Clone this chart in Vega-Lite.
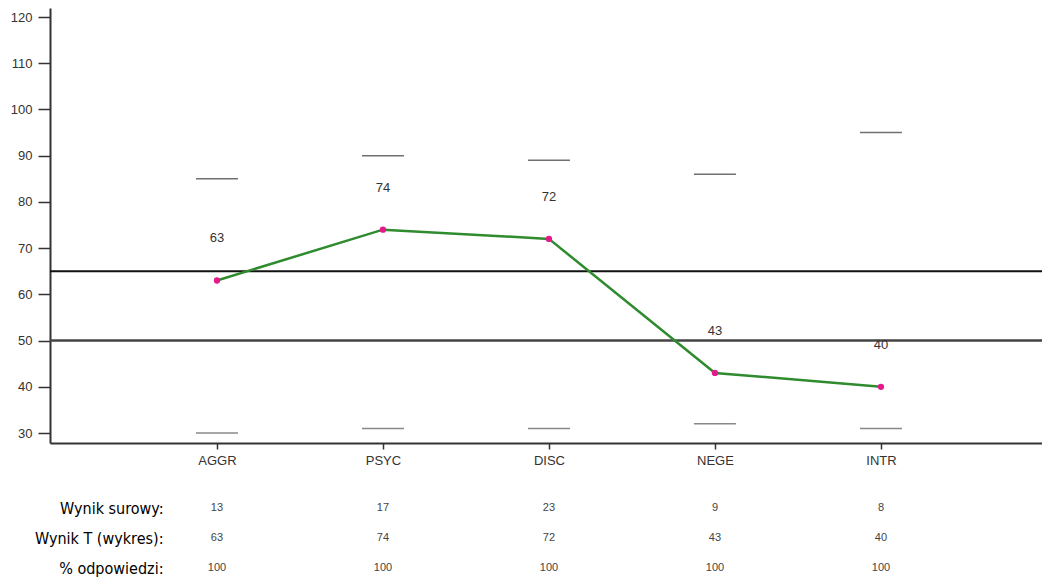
{
  "$schema": "https://vega.github.io/schema/vega-lite/v6.json",
  "padding": {"left": 10, "top": 8, "right": 0, "bottom": 0},
  "background": "white",
  "config": {"view": {"stroke": null}, "font": "Liberation Sans"},
  "datasets": {
    "scores": [
      {"scale": "AGGR", "t": 63, "hi": 85, "lo": 30},
      {"scale": "PSYC", "t": 74, "hi": 90, "lo": 31},
      {"scale": "DISC", "t": 72, "hi": 89, "lo": 31},
      {"scale": "NEGE", "t": 43, "hi": 86, "lo": 32},
      {"scale": "INTR", "t": 40, "hi": 95, "lo": 31}
    ],
    "norms": [{"level": "high", "y": 65}, {"level": "mid", "y": 50}],
    "table": [
      {"scale": "AGGR", "row": "Wynik surowy:", "value": 13},
      {"scale": "PSYC", "row": "Wynik surowy:", "value": 17},
      {"scale": "DISC", "row": "Wynik surowy:", "value": 23},
      {"scale": "NEGE", "row": "Wynik surowy:", "value": 9},
      {"scale": "INTR", "row": "Wynik surowy:", "value": 8},
      {"scale": "AGGR", "row": "Wynik T (wykres):", "value": 63},
      {"scale": "PSYC", "row": "Wynik T (wykres):", "value": 74},
      {"scale": "DISC", "row": "Wynik T (wykres):", "value": 72},
      {"scale": "NEGE", "row": "Wynik T (wykres):", "value": 43},
      {"scale": "INTR", "row": "Wynik T (wykres):", "value": 40},
      {"scale": "AGGR", "row": "% odpowiedzi:", "value": 100},
      {"scale": "PSYC", "row": "% odpowiedzi:", "value": 100},
      {"scale": "DISC", "row": "% odpowiedzi:", "value": 100},
      {"scale": "NEGE", "row": "% odpowiedzi:", "value": 100},
      {"scale": "INTR", "row": "% odpowiedzi:", "value": 100}
    ]
  },
  "spacing": 26,
  "vconcat": [
    {
      "width": 992,
      "height": 435,
      "layer": [
        {
          "data": {"name": "norms"},
          "transform": [{"filter": "datum.level === 'high'"}],
          "mark": {"type": "rule", "color": "#111", "strokeWidth": 2},
          "encoding": {
            "y": {"field": "y", "type": "quantitative", "scale": {"domain": [27.84, 121.95], "nice": false, "zero": false},
              "axis": {"title": null, "values": [30, 40, 50, 60, 70, 80, 90, 100, 110, 120], "grid": false, "domainColor": "#333", "domainWidth": 2, "tickColor": "#333", "tickWidth": 1.5, "tickSize": 12, "labelPadding": 6, "labelFontSize": 13, "labelColor": "#333", "labelFont": "Liberation Sans"}}
          }
        },
        {
          "data": {"name": "norms"},
          "transform": [{"filter": "datum.level === 'mid'"}],
          "mark": {"type": "rule", "color": "#444", "strokeWidth": 2.5},
          "encoding": {"y": {"field": "y", "type": "quantitative"}}
        },
        {
          "data": {"name": "scores"},
          "mark": {"type": "tick", "color": "#333", "size": 42, "thickness": 1.5},
          "encoding": {
            "x": {"field": "scale", "type": "nominal", "sort": null,
              "scale": {"type": "point", "domain": ["AGGR", "PSYC", "DISC", "NEGE", "INTR"], "padding": 0.988, "align": 0.509},
              "axis": {"title": null, "labelAngle": 0, "domainColor": "#333", "domainWidth": 2, "tickColor": "#333", "tickWidth": 1.5, "tickSize": 6, "labelPadding": 5, "labelFontSize": 13, "labelColor": "#333", "labelFont": "Liberation Sans"}},
            "y": {"field": "hi", "type": "quantitative"}
          }
        },
        {
          "data": {"name": "scores"},
          "mark": {"type": "tick", "color": "#555", "size": 42, "thickness": 1.5},
          "encoding": {
            "x": {"field": "scale", "type": "nominal", "sort": null},
            "y": {"field": "lo", "type": "quantitative"}
          }
        },
        {
          "data": {"name": "scores"},
          "mark": {"type": "line", "color": "#2e8b2e", "strokeWidth": 2.5},
          "encoding": {
            "x": {"field": "scale", "type": "nominal", "sort": null},
            "y": {"field": "t", "type": "quantitative"}
          }
        },
        {
          "data": {"name": "scores"},
          "mark": {"type": "point", "filled": true, "color": "#e6198c", "size": 40, "opacity": 1},
          "encoding": {
            "x": {"field": "scale", "type": "nominal", "sort": null},
            "y": {"field": "t", "type": "quantitative"}
          }
        },
        {
          "data": {"name": "scores"},
          "mark": {"type": "text", "dy": -42, "fontSize": 13, "color": "#333", "font": "Liberation Sans"},
          "encoding": {
            "x": {"field": "scale", "type": "nominal", "sort": null},
            "y": {"field": "t", "type": "quantitative"},
            "text": {"field": "t", "type": "quantitative"}
          }
        }
      ]
    },
    {
      "width": 992,
      "height": 90,
      "data": {"name": "table"},
      "mark": {"type": "text", "fontSize": 11, "color": "#444", "font": "Liberation Sans"},
      "encoding": {
        "x": {"field": "scale", "type": "nominal", "sort": null,
          "scale": {"type": "point", "domain": ["AGGR", "PSYC", "DISC", "NEGE", "INTR"], "padding": 0.988, "align": 0.509},
          "axis": null},
        "y": {"field": "row", "type": "nominal", "sort": ["Wynik surowy:", "Wynik T (wykres):", "% odpowiedzi:"],
          "scale": {"type": "point", "padding": 0.5},
          "axis": {"title": null, "domain": false, "ticks": false, "grid": false, "offset": -113, "labelPadding": 0, "labelFont": "DejaVu Sans Condensed, DejaVu Sans, sans-serif", "labelFontSize": 16, "labelColor": "#000", "labelAlign": "right"}},
        "text": {"field": "value", "type": "quantitative"}
      }
    }
  ]
}
